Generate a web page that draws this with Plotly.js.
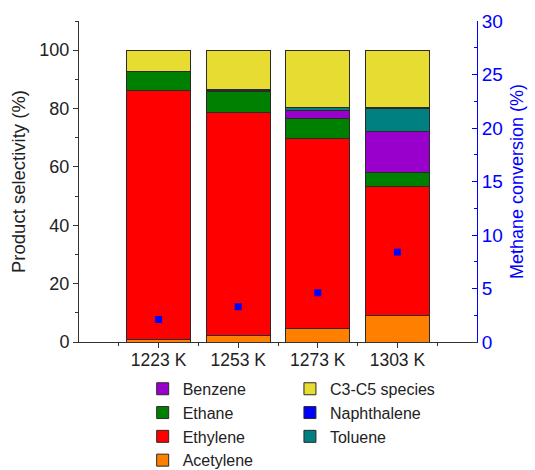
<!DOCTYPE html>
<html>
<head>
<meta charset="utf-8">
<script src="https://cdn.plot.ly/plotly-3.0.1.min.js"></script>
<style>html,body{margin:0;padding:0;background:#fff;}#chart{width:535px;height:470px;}</style>
</head>
<body>
<div id="chart"></div>
<script>
const categories = ["1223 K", "1253 K", "1273 K", "1303 K"];
const acetylene   = [1.0, 2.4, 4.7, 9.1];
const ethylene    = [85.1, 76.2, 65.1, 44.3];
const ethane      = [6.7, 7.1, 6.7, 4.6];
const benzene     = [0, 0.4, 2.9, 14.2];
const toluene     = [0, 0.3, 1.1, 7.7];
const naphthalene = [0, 0, 0, 0.4];
const c3c5        = [7.2, 13.6, 19.5, 19.7];
const methaneConversion = [2.1, 3.3, 4.6, 8.4];

const xs = categories.map((c, i) => i);
const FONT = "Liberation Sans, Arial, sans-serif";

function bar(name, vals, color, legend, rank) {
  return {
    type: "bar", name: name, x: xs, y: vals, width: 0.8,
    marker: {color: color, line: {color: "#2a2a2a", width: 1}},
    legend: legend, legendrank: rank, hoverinfo: "y+name"
  };
}

const traces = [
  bar("Acetylene", acetylene, "#FF8000", "legend", 4),
  bar("Ethylene", ethylene, "#FF0000", "legend", 3),
  bar("Ethane", ethane, "#008000", "legend", 2),
  bar("Benzene", benzene, "#9900CC", "legend", 1),
  bar("Toluene", toluene, "#008080", "legend2", 3),
  bar("Naphthalene", naphthalene, "#0000FF", "legend2", 2),
  bar("C3-C5 species", c3c5, "#E6DC32", "legend2", 1),
  {
    type: "scatter", mode: "markers", x: xs, y: methaneConversion, yaxis: "y2",
    marker: {symbol: "square", size: 7, color: "#0000FF"},
    showlegend: false, name: "Methane conversion"
  }
];

const layout = {
  width: 535, height: 470,
  margin: {l: 79, r: 58, t: 21, b: 128, autoexpand: false},
  paper_bgcolor: "#fff", plot_bgcolor: "#fff",
  font: {family: FONT, size: 18, color: "#222"},
  barmode: "stack",
  xaxis: {
    range: [-1, 4], tickvals: xs, ticktext: categories,
    showline: true, linecolor: "#333", linewidth: 1,
    ticks: "outside", ticklen: 5, tickcolor: "#333",
    minor: {tickvals: [-0.5, 0.5, 1.5, 2.5, 3.5], ticks: "outside", ticklen: 3, tickcolor: "#333"},
    showgrid: false, zeroline: false,
    ticklabelstandoff: -3,
    tickfont: {size: 17.5, color: "#222"}
  },
  yaxis: {
    range: [0, 110], tickvals: [0, 20, 40, 60, 80, 100],
    showline: true, linecolor: "#333", linewidth: 1,
    ticks: "outside", ticklen: 5, tickcolor: "#333",
    minor: {dtick: 10, tick0: 0, ticks: "outside", ticklen: 3, tickcolor: "#333"},
    showgrid: false, zeroline: false,
    tickfont: {size: 18, color: "#222"},
    title: {text: "Product selectivity (%)", font: {size: 18.5, color: "#222"}, standoff: 8}
  },
  yaxis2: {
    overlaying: "y", side: "right", range: [0, 30], dtick: 5, tick0: 0,
    showline: true, linecolor: "#0000FF", linewidth: 1,
    ticks: "inside", ticklen: 5, tickcolor: "#0000FF",
    minor: {dtick: 2.5, tick0: 0, ticks: "inside", ticklen: 3, tickcolor: "#0000FF"},
    showgrid: false, zeroline: false,
    tickfont: {size: 19, color: "#0000FF"},
    title: {text: "Methane conversion (%)", font: {size: 18, color: "#0000FF"}, standoff: 8}
  },
  legend: {
    x: 0.16, y: -0.093, xanchor: "left", yanchor: "top",
    orientation: "v", traceorder: "normal", font: {size: 16, color: "#222"},
    bgcolor: "rgba(0,0,0,0)", tracegroupgap: 0, itemwidth: 30
  },
  legend2: {
    x: 0.53, y: -0.093, xanchor: "left", yanchor: "top",
    orientation: "v", traceorder: "normal", font: {size: 16, color: "#222"},
    bgcolor: "rgba(0,0,0,0)", tracegroupgap: 0, itemwidth: 30
  },
  showlegend: true
};

Plotly.newPlot("chart", traces, layout, {displayModeBar: false, staticPlot: true});
</script>
</body>
</html>
